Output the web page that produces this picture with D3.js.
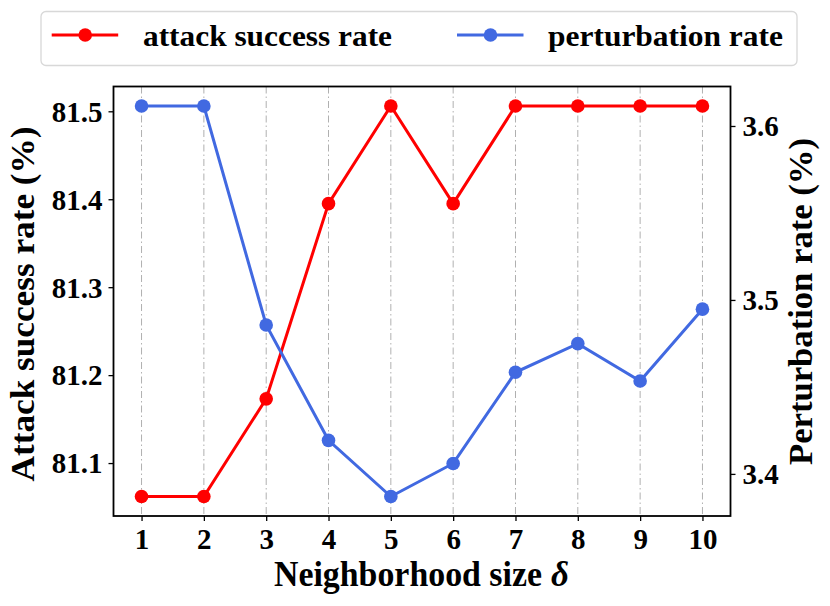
<!DOCTYPE html>
<html><head><meta charset="utf-8">
<script src="https://cdn.jsdelivr.net/npm/d3@7"></script>
<style>body{margin:0;background:#fff}svg{display:block}</style>
</head><body>
<svg id="c" width="830" height="606"></svg>
<script>
const sizes = [1,2,3,4,5,6,7,8,9,10];
const attackRate = [81.062,81.062,81.173,81.395,81.506,81.395,81.506,81.506,81.506,81.506];
const pertRate = [3.6115,3.6115,3.4856,3.4193,3.387,3.406,3.4584,3.4749,3.4534,3.4947];
const leftTicks = [81.1,81.2,81.3,81.4,81.5];
const rightTicks = [3.4,3.5,3.6];
const seriesNames = ["attack success rate","perturbation rate"];
const colors = ["#ff0000","#4169e1"];

const FONT = '"Liberation Serif","Times New Roman",Times,serif';
const svg = d3.select("#c").style("font-family",FONT).style("font-weight","bold");
const L=113.5, R=730.5, T=86.5, B=516;
const x = d3.scaleLinear().domain([0.55,10.45]).range([L,R]);
const yL = d3.scaleLinear().domain([81.0398,81.5282]).range([B,T]);
const yR = d3.scaleLinear().domain([3.3758,3.6227]).range([B,T]);

// grid
svg.append("g").selectAll("line").data(sizes).join("line")
  .attr("x1",d=>x(d)).attr("x2",d=>x(d)).attr("y1",T).attr("y2",B)
  .attr("stroke","#b0b0b0").attr("stroke-width",1).attr("stroke-dasharray","7,3,1.5,3");

const fs=29;
const gx = svg.append("g").attr("transform",`translate(0,${B})`)
  .call(d3.axisBottom(x).tickValues(sizes).tickSize(5).tickFormat(d3.format("d")));
const gl = svg.append("g").attr("transform",`translate(${L},0)`)
  .call(d3.axisLeft(yL).tickValues(leftTicks).tickSize(5).tickPadding(6).tickFormat(d3.format(".1f")));
const gr = svg.append("g").attr("transform",`translate(${R},0)`)
  .call(d3.axisRight(yR).tickValues(rightTicks).tickSize(5).tickPadding(7).tickFormat(d3.format(".1f")));
[gx,gl,gr].forEach(g=>{
  g.attr("font-family",null).attr("font-size",null);
  g.select(".domain").remove();
  g.selectAll(".tick line").attr("stroke","#000").attr("stroke-width",1.3);
  g.selectAll(".tick text").attr("font-size",fs).attr("fill","#000")
   .style("font-family",FONT).style("font-weight","bold");
});
gx.selectAll(".tick text").attr("y",32.5).attr("dy",0);
gl.selectAll(".tick text").attr("dy","0.34em");
gr.selectAll(".tick text").attr("dy","0.34em");

// frame
svg.append("rect").attr("x",L).attr("y",T).attr("width",R-L).attr("height",B-T)
  .attr("fill","none").attr("stroke","#000").attr("stroke-width",1.8);

// series
const lineL = d3.line().x((d,i)=>x(sizes[i])).y(d=>yL(d));
const lineR = d3.line().x((d,i)=>x(sizes[i])).y(d=>yR(d));
svg.append("path").datum(attackRate).attr("d",lineL).attr("fill","none").attr("stroke",colors[0]).attr("stroke-width",3);
svg.append("g").selectAll("circle").data(attackRate).join("circle")
  .attr("cx",(d,i)=>x(sizes[i])).attr("cy",d=>yL(d)).attr("r",6.8).attr("fill",colors[0]);
svg.append("path").datum(pertRate).attr("d",lineR).attr("fill","none").attr("stroke",colors[1]).attr("stroke-width",3);
svg.append("g").selectAll("circle").data(pertRate).join("circle")
  .attr("cx",(d,i)=>x(sizes[i])).attr("cy",d=>yR(d)).attr("r",6.8).attr("fill",colors[1]);

// axis labels
svg.append("text").attr("x",274).attr("y",586).attr("font-size",35)
  .attr("textLength",268).attr("lengthAdjust","spacingAndGlyphs")
  .text("Neighborhood size");
svg.append("text").attr("x",551).attr("y",586).attr("font-size",35).attr("font-style","italic")
  .text("δ");
svg.append("text").attr("transform",`translate(33.5,481.5) rotate(-90)`).attr("font-size",33)
  .attr("textLength",355).attr("lengthAdjust","spacingAndGlyphs")
  .text("Attack success rate (%)");
svg.append("text").attr("transform",`translate(811.5,465) rotate(-90)`).attr("font-size",34)
  .attr("textLength",327).attr("lengthAdjust","spacingAndGlyphs")
  .text("Perturbation rate (%)");

// legend
const lg = svg.append("g");
lg.append("rect").attr("x",41).attr("y",11.5).attr("width",756).attr("height",54).attr("rx",5)
  .attr("fill","#fff").attr("stroke","#d8d8d8").attr("stroke-width",1.3);
const lx=[51.7,457], tx=[143,548], tw=[249,235];
seriesNames.forEach((n,i)=>{
  lg.append("line").attr("x1",lx[i]).attr("x2",lx[i]+66.5).attr("y1",35).attr("y2",35).attr("stroke",colors[i]).attr("stroke-width",3);
  lg.append("circle").attr("cx",lx[i]+33.5).attr("cy",35).attr("r",6.8).attr("fill",colors[i]);
  lg.append("text").attr("x",tx[i]).attr("y",45.5).attr("font-size",29)
    .attr("textLength",tw[i]).attr("lengthAdjust","spacingAndGlyphs").text(n);
});
</script>
</body></html>
